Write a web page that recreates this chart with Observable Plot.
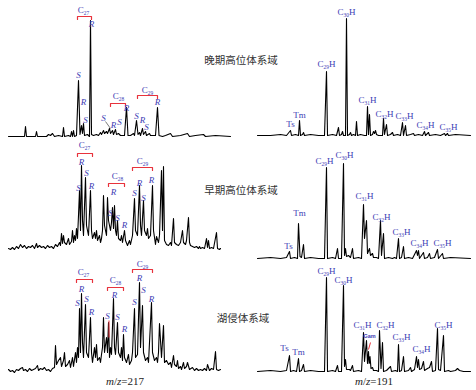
<!DOCTYPE html>
<html><head><meta charset="utf-8">
<script src="https://cdn.jsdelivr.net/npm/d3@7"></script>
<script src="https://cdn.jsdelivr.net/npm/@observablehq/plot@0.6"></script>
<style>
html,body{margin:0;padding:0;background:#fff;}
#fig{position:relative;width:476px;height:390px;overflow:hidden;background:#fff;}
.panel{position:absolute;}
.stage{position:absolute;width:120px;text-align:center;font-family:"Noto Sans CJK SC",sans-serif;font-size:10.5px;line-height:14px;color:#333;}
.mz{position:absolute;width:80px;text-align:center;font-family:"Liberation Serif",serif;font-size:11px;line-height:14px;color:#222;}
</style></head>
<body><div id="fig"></div>
<script>
// ---- traces: [retention position, intensity above baseline] ----
const trace217Late = [[8,0],[24,0],[25,10],[26,0],[35,0],[36,5],[37,0],[46,0],[48,2],[50,1],[52,3],[54,0],[58,1],[62,0],[63,9],[64,0],[68,1],[70,0],[71,5],[72,0],[73,6],[74,0],[76,1],[78,56],[79.5,2],[81,11],[82,3],[83,13],[84,1],[87,2],[89,0],[90,116],[91,2],[93,1],[96,2],[98,1],[100,4],[101,2],[103,6],[104,3],[106,5],[107,3],[109,8],[110,3],[112,6],[113,2],[115,7],[116,2],[118,3],[120,1],[122,1],[124,1],[126,29],[127.5,1],[130,1],[133,3],[134,1],[136,16],[137.5,2],[139,4],[140,1],[142,8],[143,2],[145,5],[146,1],[149,3],[150,1],[153,1],[155,1],[157,29],[158.5,1],[162,0],[165,1],[170,3],[172,0],[180,1],[187,3],[189,0],[195,1],[203,2],[205,0],[215,1],[230,0]];
const trace191Late = [[257,0],[270,0],[280,1],[286,0],[290,5],[291,0],[295,1],[298,0],[299,15],[300,0],[302,1],[303,3],[304,0],[310,1],[318,0],[324,0],[326,64],[327,0],[332,1],[336,0],[338,8],[339,0],[341,1],[342,4],[343,0],[345,0],[346,117],[347,0],[349,1],[350,3],[351,0],[353,1],[355,0],[356,14],[357,0],[360,1],[364,0],[366,0],[367,29],[368,1],[369,21],[370,0],[372,1],[373,4],[374,2],[375,5],[376,1],[378,0],[382,0],[383,17],[384,1],[386,11],[387,0],[390,1],[392,3],[393,0],[397,1],[400,0],[402,13],[403,0],[405,10],[406,0],[410,1],[413,2],[414,0],[418,1],[422,0],[424,4],[425,0],[428,3],[429,0],[435,1],[440,0],[444,2],[445,0],[447,2],[448,0],[455,1],[470,0]];
const trace217Early = [[8,2],[10,1],[12,3],[14,1],[16,4],[18,2],[20,6],[22,3],[24,5],[26,2],[28,4],[30,3],[32,5],[34,2],[36,7],[37,3],[39,5],[41,3],[43,4],[45,2],[47,5],[49,3],[51,4],[53,2],[55,6],[57,4],[59,8],[60,5],[61,17],[62,7],[63,15],[64,8],[66,6],[68,12],[69,6],[71,9],[72,20],[73,8],[74,15],[75,10],[76,22],[77,12],[78,35],[79,60],[80,20],[81,85],[82,30],[83,15],[85,73],[86,25],[88,15],[90,60],[91,20],[92,12],[94,18],[95,12],[96,20],[97,10],[99,15],[100,8],[101,12],[102,20],[103,55],[104,25],[105,20],[106,15],[107,53],[108,30],[110,20],[111,28],[112,43],[113,22],[114,45],[115,20],[116,15],[117,30],[118,12],[120,10],[121,15],[122,8],[124,20],[125,10],[127,5],[129,10],[130,6],[132,15],[134,52],[135,20],[137,15],[139,65],[140,25],[141,15],[143,50],[144,20],[146,15],[147,22],[148,12],[150,15],[152,65],[153,20],[155,6],[156,14],[158,8],[159,15],[161,80],[162,20],[163,84],[164,10],[166,6],[168,5],[170,8],[171,5],[173,32],[174,8],[176,6],[178,5],[180,8],[182,20],[183,8],[185,6],[186,10],[188,33],[189,8],[190,5],[192,4],[194,3],[196,4],[198,2],[199,4],[200,2],[202,3],[204,2],[206,12],[207,3],[208,10],[209,2],[211,3],[213,2],[216,18],[217,2],[219,1],[220,2]];
const trace191Early = [[257,0],[270,1],[280,0],[286,1],[289,7],[290,0],[294,1],[297,0],[298,35],[299.5,2],[301,1],[303,14],[304,0],[310,1],[318,0],[324,0],[326,91],[327,0],[332,1],[335,0],[337,10],[338,0],[341,0],[343,95],[344,3],[345,10],[346,2],[348,3],[350,1],[352,10],[353,0],[358,1],[361,0],[363,54],[364,20],[366,38],[367,5],[369,10],[370,3],[372,5],[373,1],[376,1],[378,0],[380,38],[381,3],[383,25],[384,0],[388,1],[392,0],[394,1],[396,0],[398,20],[399,0],[401,1],[403,12],[404,0],[408,1],[412,0],[416,8],[417,3],[418,8],[419,0],[423,6],[424,0],[427,1],[429,5],[430,0],[434,1],[437,9],[438,0],[442,5],[443,0],[450,1],[470,0]];
const trace217TST = [[8,3],[10,1],[12,2],[14,0],[16,3],[18,2],[20,4],[22,5],[23,2],[25,3],[27,1],[29,4],[31,2],[33,3],[35,4],[37,7],[38,2],[40,4],[42,3],[44,5],[46,2],[48,3],[50,1],[52,4],[54,5],[55,27],[56,8],[58,12],[60,15],[61,6],[63,12],[64,20],[65,6],[67,8],[69,12],[70,5],[72,15],[73,6],[75,20],[76,10],[77,25],[78,15],[79,64],[80,20],[81,79],[82,30],[83,15],[85,68],[86,20],[88,15],[90,55],[91,20],[92,10],[94,25],[95,15],[96,28],[97,12],[99,15],[100,10],[101,18],[102,25],[103,55],[104,20],[106,35],[107,20],[108,50],[109,15],[110,25],[111,18],[113,74],[114,25],[115,18],[117,50],[118,20],[120,15],[121,25],[122,12],[123,38],[124,15],[126,10],[128,18],[129,8],[131,12],[132,20],[134,64],[135,15],[137,18],[139,90],[140,25],[142,67],[143,20],[145,12],[147,15],[148,10],[151,70],[152,20],[154,12],[156,15],[157,10],[158,20],[159,49],[161,15],[163,47],[164,10],[166,12],[168,8],[170,10],[171,5],[173,17],[174,8],[176,6],[177,12],[178,4],[180,6],[181,3],[183,10],[184,4],[186,6],[187,10],[189,3],[192,5],[194,2],[196,4],[198,2],[200,3],[202,2],[204,4],[206,2],[207,8],[209,2],[211,4],[213,3],[215,21],[216,3],[218,2],[220,3]];
const trace191TST = [[257,0],[270,1],[280,0],[286,1],[289,16],[290,0],[293,1],[296,0],[298,13],[299,0],[301,1],[303,7],[304,0],[310,1],[318,0],[324,0],[326,94],[327,0],[332,1],[335,0],[337,6],[338,0],[341,0],[343,86],[344,5],[345,12],[346,2],[349,2],[350,1],[352,6],[353,0],[358,1],[361,0],[363,39],[364,10],[366,31],[367,8],[368,20],[368.7,8],[369.5,15],[370.5,3],[372,4],[373,1],[376,1],[378,0],[379,41],[380.5,3],[382,29],[383,0],[386,1],[390,5],[391,0],[395,1],[397,0],[398,27],[399,0],[401,1],[403,15],[404,0],[408,1],[410,4],[411,0],[414,2],[416,15],[417,4],[418,12],[419,2],[421,3],[423,10],[424,1],[427,3],[429,4],[431,10],[432,0],[435,1],[437,43],[438,2],[440,1],[443,36],[444,0],[448,1],[450,0],[455,1],[457,3],[459,1],[463,0],[470,0]];

// ---- peak labels: [position, label height, text] ----
const carbonLate217 = [[83,126,"C27"],[118,40,"C28"],[147,46,"C29"]];
const srLate217 = [[78,61,"S"],[91,112,"R"],[83,34,"R"],[85,16,"S"],[103,18,"S"],[113,11,"R"],[119,14,"S"],[126,28,"R"],[136,20,"S"],[142,16,"R"],[146,9,"S"],[157,34,"R"]];
const hopLate191 = [[290,11,"Ts"],[299,20,"Tm"],[326,71,"C29H"],[346,123,"C30H"],[367,35,"C31H"],[384,21,"C32H"],[404,19,"C33H"],[425,10,"C34H"],[448,8,"C35H"]];
const carbonEarly217 = [[84,105,"C27"],[117,74,"C28"],[142,89,"C29"]];
const srEarly217 = [[78,62,"S"],[81,88,"R"],[86,77,"S"],[91,64,"R"],[113,58,"R"],[110,37,"S"],[117,32,"S"],[124,25,"R"],[134,57,"S"],[139,67,"R"],[143,52,"S"],[151,70,"R"]];
const hopEarly191 = [[288,12,"Ts"],[299,45,"Tm"],[324,97,"C29H"],[344,103,"C30H"],[364,62,"C31H"],[381,41,"C32H"],[401,26,"C33H"],[419,15,"C34H"],[442,15,"C35H"]];
const carbonTST217 = [[83,100,"C27"],[115,92,"C28"],[142,108,"C29"]];
const srTST217 = [[77,69,"S"],[81,83,"R"],[86,73,"S"],[91,60,"R"],[107,56,"S"],[114,77,"R"],[117,55,"S"],[124,43,"R"],[134,70,"S"],[139,94,"R"],[143,82,"S"],[151,73,"R"]];
const hopTST191 = [[284,23,"Ts"],[298,19,"Tm"],[326,100,"C29H"],[343,91,"C30H"],[362,46,"C31H"],[385,46,"C32H"],[401,34,"C33H"],[421,22,"C34H"],[443,46,"C35H"]];
const gamTST191 = [[369,35,"Gam"]];

// ---- brackets: [from, to, height] ----
const bracketsLate = [[77,91,120],[110,125,33],[137,157,41]];
const bracketsEarly = [[77,92,97],[108,124,67],[132,152,83]];
const bracketsTST = [[76,92,93],[107,123,85],[132,152,103]];
// markers: [x1,y1,x2,y2]
const leadersLate = [[105,15,110,8]];
const redMarksTST217 = [[108.5,52,108.5,35]];
const redMarksTST191 = [[370,29,368,22]];

const stageLabels = [["晚期高位体系域",241,60],["早期高位体系域",241,190],["湖侵体系域",243,318]];
const mzLabels = [["217",125,381],["191",374,381]];

const BLUE = "#3c3cb4", RED = "#e8323c";
const fig = document.getElementById("fig");

function subscriptify(svg){
  svg.querySelectorAll("text").forEach(t=>{
    const m = t.textContent.match(/^C(\d+)(H?)$/);
    if(!m) return;
    t.textContent = "C";
    const ns = "http://www.w3.org/2000/svg";
    const s = document.createElementNS(ns,"tspan");
    s.setAttribute("dy","0.3em"); s.setAttribute("font-size","0.6em"); s.textContent = m[1];
    t.appendChild(s);
    if(m[2]){
      const h = document.createElementNS(ns,"tspan");
      h.setAttribute("dy","-0.18em"); h.textContent = "H";
      t.appendChild(h);
    }
  });
}

function panel(o){
  const ymax = o.base - o.top, ymin = -o.below;
  const marks = [
    Plot.line(o.trace,{x:d=>d[0],y:d=>d[1],stroke:"#000",strokeWidth:1.1})
  ];
  if(o.brackets){
    const pts = o.brackets.flatMap((b,i)=>[[b[0],b[2]-3,i],[b[0],b[2],i],[b[1],b[2],i],[b[1],b[2]-3,i]]);
    marks.push(Plot.line(pts,{x:d=>d[0],y:d=>d[1],z:d=>d[2],stroke:RED,strokeWidth:1.2}));
  }
  if(o.red) marks.push(Plot.link(o.red,{x1:d=>d[0],y1:d=>d[1],x2:d=>d[2],y2:d=>d[3],stroke:RED,strokeWidth:1}));
  if(o.leaders) marks.push(Plot.link(o.leaders,{x1:d=>d[0],y1:d=>d[1],x2:d=>d[2],y2:d=>d[3],stroke:"#222",strokeWidth:0.6}));
  if(o.plain) marks.push(Plot.text(o.plain,{x:d=>d[0],y:d=>d[1],text:d=>d[2],fill:BLUE,fontFamily:"Liberation Serif",fontSize:9}));
  if(o.italic) marks.push(Plot.text(o.italic,{x:d=>d[0],y:d=>d[1],text:d=>d[2],fill:BLUE,fontFamily:"Liberation Serif",fontStyle:"italic",fontSize:9}));
  if(o.gam) marks.push(Plot.text(o.gam,{x:d=>d[0],y:d=>d[1],text:d=>d[2],fill:BLUE,fontFamily:"Liberation Sans",fontWeight:"bold",fontSize:5.5}));
  const svg = Plot.plot({
    width:o.x1-o.x0, height:ymax-ymin,
    marginTop:0,marginBottom:0,marginLeft:0,marginRight:0,
    x:{domain:[o.x0,o.x1],axis:null},
    y:{domain:[ymin,ymax],axis:null},
    style:{background:"transparent",overflow:"visible"},
    marks
  });
  subscriptify(svg);
  const div = document.createElement("div");
  div.className="panel";
  div.style.left=o.x0+"px"; div.style.top=o.top+"px";
  div.appendChild(svg);
  fig.appendChild(div);
}

panel({trace:trace217Late,plain:carbonLate217,italic:srLate217,brackets:bracketsLate,leaders:leadersLate,x0:0,x1:240,base:136,top:0,below:4});
panel({trace:trace191Late,plain:hopLate191,x0:240,x1:476,base:135,top:0,below:3});
panel({trace:trace217Early,plain:carbonEarly217,italic:srEarly217,brackets:bracketsEarly,x0:0,x1:240,base:250,top:138,below:6});
panel({trace:trace191Early,plain:hopEarly191,x0:240,x1:476,base:258,top:140,below:3});
panel({trace:trace217TST,plain:carbonTST217,italic:srTST217,brackets:bracketsTST,red:redMarksTST217,x0:0,x1:240,base:372,top:258,below:6});
panel({trace:trace191TST,plain:hopTST191,gam:gamTST191,red:redMarksTST191,x0:240,x1:476,base:371,top:262,below:3});

stageLabels.forEach(([t,x,y])=>{
  const d=document.createElement("div"); d.className="stage";
  d.style.left=(x-60)+"px"; d.style.top=(y-7)+"px"; d.textContent=t; fig.appendChild(d);
});
mzLabels.forEach(([v,x,y])=>{
  const d=document.createElement("div"); d.className="mz";
  d.style.left=(x-40)+"px"; d.style.top=(y-7)+"px"; d.innerHTML="<i>m</i>/<i>z</i>="+v; fig.appendChild(d);
});
</script></body></html>
